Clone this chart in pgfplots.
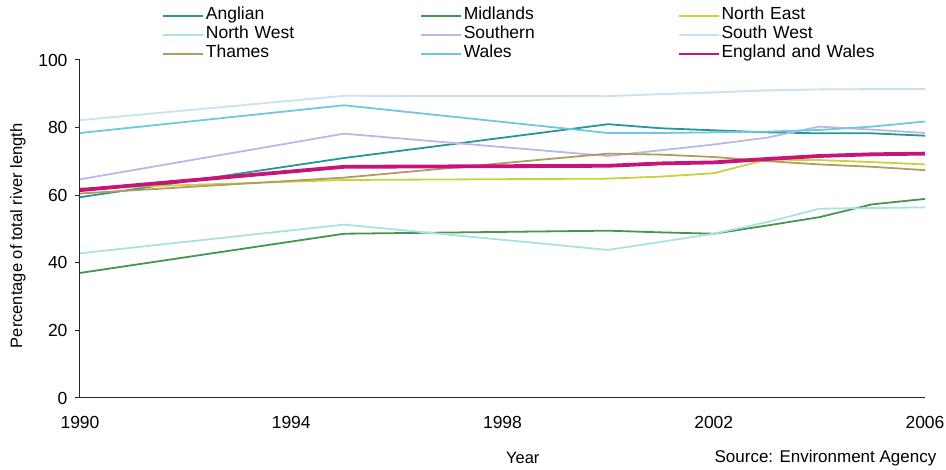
\documentclass[border=0pt]{standalone}
\usepackage{fontspec}
\setmainfont{Liberation Sans}
\usepackage{pgfplots}
\pgfplotsset{compat=1.18}
\definecolor{cAng}{RGB}{40,150,150}
\definecolor{cMid}{RGB}{70,150,80}
\definecolor{cNE}{RGB}{200,210,60}
\definecolor{cNW}{RGB}{170,225,225}
\definecolor{cSou}{RGB}{185,185,230}
\definecolor{cSW}{RGB}{200,225,245}
\definecolor{cTha}{RGB}{180,155,95}
\definecolor{cWal}{RGB}{110,200,225}
\definecolor{cEW}{RGB}{200,20,120}
\begin{document}
\fontsize{16}{19}\selectfont
\begin{tikzpicture}
\useasboundingbox (-80pt,-72pt) rectangle (866pt,398pt);
\begin{axis}[
  at={(0,0)}, anchor=south west,
  scale only axis, width=845pt, height=338pt,
  xmin=1990, xmax=2006, ymin=0, ymax=100,
  clip mode=individual,
  xtick={1990,1994,1998,2002,2006}, ytick={0,20,...,100},
  axis x line*=bottom, axis y line*=left,
  axis line style={line width=1pt, black!85},
  tick label style={font=\fontsize{17.5}{20}\selectfont},
  /pgf/number format/assume math mode=true,
  /pgf/number format/1000 sep={},
  xtick style={draw=none},
  ytick style={line width=1pt, black!85},
  tick align=outside, major tick length=5pt,
  xticklabel style={yshift=-8pt},
  yticklabel style={xshift=-2pt},
  ylabel={Percentage of total river length},
  ylabel style={at={(axis description cs:-0.0734,0.48)}, anchor=center, font=\fontsize{16.5}{19}\selectfont},
  xlabel={Year},
  xlabel style={at={(axis description cs:0.524,-0.1775)}, anchor=center, font=\fontsize{16.5}{19}\selectfont},
  legend columns=3,
  legend cell align=left,
  legend image code/.code={\draw[line width=1.8pt,#1] (0pt,0pt) -- (40pt,0pt);},
  legend style={at={(axis description cs:0.097,1.158)}, anchor=north west,
    draw=none, fill=none, inner sep=0pt,
    nodes={text width=212pt, inner xsep=2pt, inner ysep=1pt, text height=12pt, text depth=5pt, align=left},
    font=\fontsize{17.5}{19}\selectfont},
  every axis plot/.append style={line width=1.8pt},
]
\addplot[cAng] coordinates {(1990,59.4) (1995,71) (2000,81) (2001,79.8) (2002,79.2) (2003,78.6) (2004,78.3) (2005,78.3) (2006,77.6)};
\addlegendentry{Anglian}
\addplot[cMid] coordinates {(1990,37) (1995,48.6) (2000,49.5) (2001,49) (2002,48.6) (2003,51) (2004,53.5) (2005,57.3) (2006,58.9)};
\addlegendentry{Midlands}
\addplot[cNE] coordinates {(1990,62) (1995,64.5) (2000,64.9) (2001,65.5) (2002,66.5) (2003,70.5) (2004,70.4) (2005,69.8) (2006,69.1)};
\addlegendentry{North East}
\addplot[cNW] coordinates {(1990,42.8) (1995,51.3) (2000,43.8) (2001,46.2) (2002,48.6) (2003,52) (2004,56) (2005,56.2) (2006,56.4)};
\addlegendentry{North West}
\addplot[cSou] coordinates {(1990,64.7) (1995,78.2) (2000,71.6) (2001,73.3) (2002,75) (2003,77) (2004,80.3) (2005,79.4) (2006,78.4)};
\addlegendentry{Southern}
\addplot[cSW] coordinates {(1990,82.2) (1995,89.4) (2000,89.3) (2001,89.9) (2002,90.4) (2003,91) (2004,91.3) (2005,91.4) (2006,91.4)};
\addlegendentry{South West}
\addplot[cTha] coordinates {(1990,60.5) (1995,65.2) (2000,72.3) (2001,72) (2002,71.3) (2003,70.1) (2004,69.1) (2005,68.4) (2006,67.4)};
\addlegendentry{Thames}
\addplot[cWal] coordinates {(1990,78.4) (1995,86.6) (2000,78.4) (2001,78.4) (2002,78.6) (2003,78.8) (2004,79.3) (2005,80.3) (2006,81.8)};
\addlegendentry{Wales}
\addplot[cEW, line width=3.8pt] coordinates {(1990,61.5) (1995,68.4) (2000,68.7) (2001,69.4) (2002,69.7) (2003,70.7) (2004,71.6) (2005,72.1) (2006,72.3)};
\addlegendentry{England and Wales}
\node[anchor=east, font=\fontsize{17}{19}\selectfont] at (rel axis cs:1.02,-0.1775) {Source: Environment Agency};
\end{axis}
\end{tikzpicture}
\end{document}
